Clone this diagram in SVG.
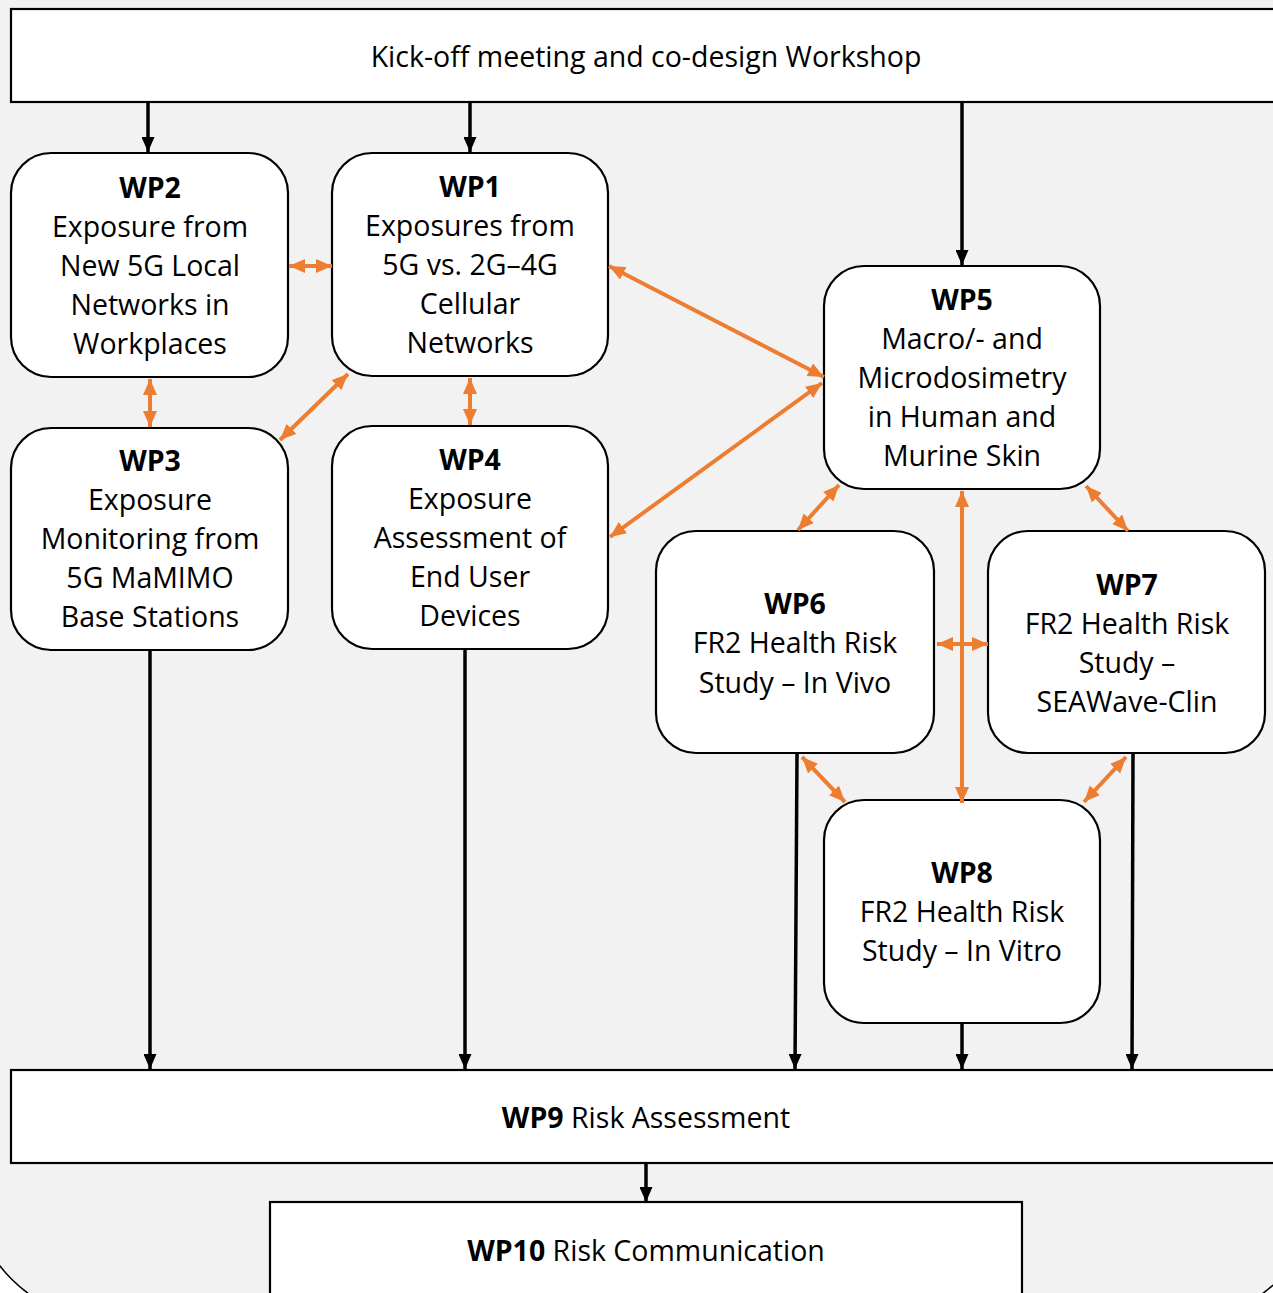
<svg xmlns="http://www.w3.org/2000/svg" width="1273" height="1293" viewBox="0 0 1273 1293">
<defs>
<marker id="ab" markerUnits="userSpaceOnUse" markerWidth="15" markerHeight="13" refX="15" refY="6.5" orient="auto-start-reverse"><path d="M0,0 L15,6.5 L0,13 z" fill="#000"/></marker>
<marker id="ao" markerUnits="userSpaceOnUse" markerWidth="16" markerHeight="14" refX="16" refY="7" orient="auto-start-reverse"><path d="M0,0 L16,7 L0,14 z" fill="#ED7D31"/></marker>
</defs>
<style>
.box{fill:#fff;stroke:#000;stroke-width:2.2}
.t{font-family:"Open Sans","Liberation Sans",sans-serif;font-size:28.5px;fill:#000;text-anchor:middle}
.b{font-weight:bold}
.blk{stroke:#000;stroke-width:3.5;fill:none;marker-end:url(#ab)}
.org{stroke:#ED7D31;stroke-width:4;fill:none;marker-start:url(#ao);marker-end:url(#ao)}
</style>
<rect width="1273" height="1293" fill="#fff"/>
<rect x="-29" y="-200" width="1349" height="1520" rx="139" ry="139" fill="#f2f2f2" stroke="#000" stroke-width="1.5"/>

<g id="kickoff">
<rect class="box" x="11" y="9" width="1300" height="93" stroke-width="2.5"/>
<text class="t" x="646" y="67">Kick-off meeting and co-design Workshop</text>
</g>
<g id="wp2">
<rect class="box" x="11" y="153" width="277" height="224" rx="40"/>
<text class="t" x="150"><tspan class="b" x="150" y="198">WP2</tspan><tspan x="150" y="237">Exposure from</tspan><tspan x="150" y="276">New 5G Local</tspan><tspan x="150" y="315">Networks in</tspan><tspan x="150" y="354">Workplaces</tspan></text>
</g>
<g id="wp1">
<rect class="box" x="332" y="153" width="276" height="223" rx="40"/>
<text class="t" x="470"><tspan class="b" x="470" y="197">WP1</tspan><tspan x="470" y="236">Exposures from</tspan><tspan x="470" y="275">5G vs. 2G–4G</tspan><tspan x="470" y="314">Cellular</tspan><tspan x="470" y="353">Networks</tspan></text>
</g>
<g id="wp3">
<rect class="box" x="11" y="428" width="277" height="222" rx="40"/>
<text class="t" x="150"><tspan class="b" x="150" y="471">WP3</tspan><tspan x="150" y="510">Exposure</tspan><tspan x="150" y="549">Monitoring from</tspan><tspan x="150" y="588">5G MaMIMO</tspan><tspan x="150" y="627">Base Stations</tspan></text>
</g>
<g id="wp4">
<rect class="box" x="332" y="426" width="276" height="223" rx="40"/>
<text class="t" x="470"><tspan class="b" x="470" y="470">WP4</tspan><tspan x="470" y="509">Exposure</tspan><tspan x="470" y="548">Assessment of</tspan><tspan x="470" y="587">End User</tspan><tspan x="470" y="626">Devices</tspan></text>
</g>
<g id="wp5">
<rect class="box" x="824" y="266" width="276" height="223" rx="40"/>
<text class="t" x="962"><tspan class="b" x="962" y="310">WP5</tspan><tspan x="962" y="349">Macro/- and</tspan><tspan x="962" y="388">Microdosimetry</tspan><tspan x="962" y="427">in Human and</tspan><tspan x="962" y="466">Murine Skin</tspan></text>
</g>
<g id="wp6">
<rect class="box" x="656" y="531" width="278" height="222" rx="40"/>
<text class="t" x="795"><tspan class="b" x="795" y="614">WP6</tspan><tspan x="795" y="653">FR2 Health Risk</tspan><tspan x="795" y="693">Study – In Vivo</tspan></text>
</g>
<g id="wp7">
<rect class="box" x="988" y="531" width="277" height="222" rx="40"/>
<text class="t" x="1127"><tspan class="b" x="1127" y="595">WP7</tspan><tspan x="1127" y="634">FR2 Health Risk</tspan><tspan x="1127" y="673">Study –</tspan><tspan x="1127" y="712">SEAWave-Clin</tspan></text>
</g>
<g id="wp8">
<rect class="box" x="824" y="800" width="276" height="223" rx="40"/>
<text class="t" x="962"><tspan class="b" x="962" y="883">WP8</tspan><tspan x="962" y="922">FR2 Health Risk</tspan><tspan x="962" y="961">Study – In Vitro</tspan></text>
</g>
<g id="wp9">
<rect class="box" x="11" y="1070" width="1300" height="93"/>
<text class="t" x="646" y="1128"><tspan class="b">WP9</tspan> Risk Assessment</text>
</g>
<g id="wp10">
<rect class="box" x="270" y="1202" width="752" height="130"/>
<text class="t" x="646" y="1261"><tspan class="b">WP10</tspan> Risk Communication</text>
</g>

<g id="connectors">
<line class="blk" x1="148" y1="103" x2="148" y2="152"/>
<line class="blk" x1="470" y1="103" x2="470" y2="152"/>
<line class="blk" x1="962" y1="103" x2="962" y2="265"/>
<line class="blk" x1="150" y1="651" x2="150" y2="1069"/>
<line class="blk" x1="465" y1="650" x2="465" y2="1069"/>
<line class="blk" x1="797" y1="754" x2="795" y2="1069"/>
<line class="blk" x1="962" y1="1024" x2="962" y2="1069"/>
<line class="blk" x1="1133" y1="754" x2="1132" y2="1069"/>
<line class="blk" x1="646" y1="1164" x2="646" y2="1202"/>

<line class="org" x1="289" y1="266" x2="332" y2="266"/>
<line class="org" x1="150" y1="379" x2="150" y2="427"/>
<line class="org" x1="348" y1="374" x2="280" y2="440"/>
<line class="org" x1="470" y1="378" x2="470" y2="425"/>
<line class="org" x1="609" y1="266" x2="824" y2="377"/>
<line class="org" x1="610" y1="537" x2="822" y2="383"/>
<line class="org" x1="839" y1="485" x2="798" y2="530"/>
<line class="org" x1="962" y1="491" x2="962" y2="803"/>
<line class="org" x1="1086" y1="486" x2="1128" y2="531"/>
<line class="org" x1="937" y1="644" x2="988" y2="644"/>
<line class="org" x1="802" y1="757" x2="845" y2="802"/>
<line class="org" x1="1126" y1="757" x2="1084" y2="802"/>
</g>
</svg>
